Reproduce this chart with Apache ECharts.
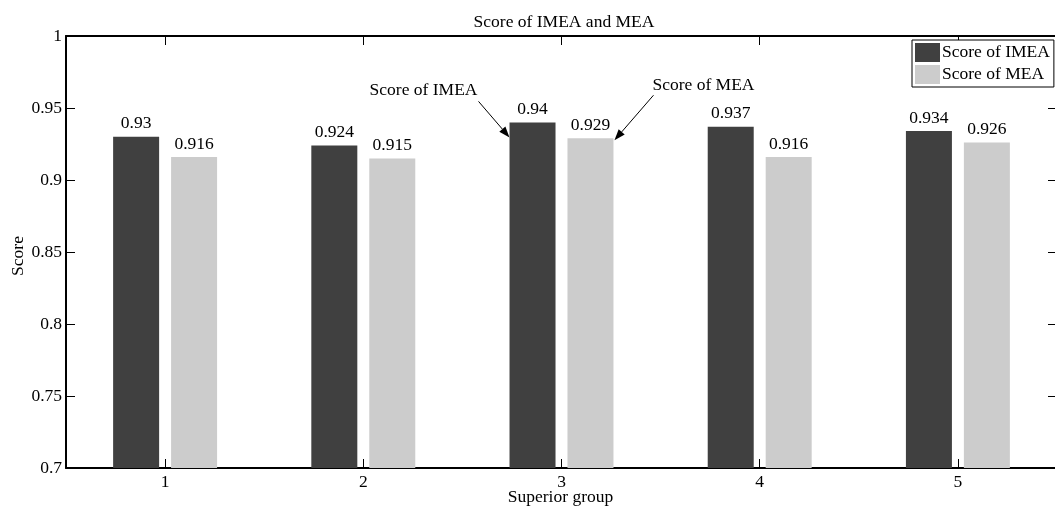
<!DOCTYPE html>
<html>
<head>
<meta charset="utf-8">
<script src="https://cdn.jsdelivr.net/npm/echarts@6/dist/echarts.min.js"></script>
<style>
  html, body { margin: 0; padding: 0; background: #fff; }
  #main { width: 1055px; height: 508px; }
</style>
</head>
<body>
<div id="main"></div>
<script>
// data
const groups = ['1', '2', '3', '4', '5'];
const imea = [0.93, 0.924, 0.94, 0.937, 0.934];
const mea = [0.916, 0.915, 0.929, 0.916, 0.926];
const yTicks = { min: 0.7, max: 1, step: 0.05 };

const font = '"Liberation Serif", "Times New Roman", serif';
const fs = 17.5;
const black = '#000';

let myChart = echarts.init(document.getElementById('main'));

const tickStyle = { show: true, inside: true, length: 9, lineStyle: { color: black, width: 1 } };

const option = {
  animation: false,
  backgroundColor: '#fff',
  textStyle: { fontFamily: font },
  title: {
    text: 'Score of IMEA and MEA',
    left: 559, top: 8, textAlign: 'center',
    textStyle: { fontFamily: font, fontSize: fs, fontWeight: 'normal', color: black }
  },
  legend: {
    orient: 'vertical',
    left: 912, top: 40,
    padding: [3, 4, 3, 3],
    itemGap: 3,
    itemWidth: 25, itemHeight: 19,
    icon: 'rect',
    backgroundColor: '#fff',
    borderColor: black, borderWidth: 1, borderRadius: 0,
    textStyle: { fontFamily: font, fontSize: fs, color: black, padding: [0, 0, 0, -3] },
    data: ['Score of IMEA', 'Score of MEA']
  },
  grid: {
    left: 66, top: 36, width: 991, height: 432,
    containLabel: false,
    outerBoundsMode: 'none'
  },
  xAxis: [{
    type: 'category',
    data: groups,
    position: 'bottom',
    axisLine: { lineStyle: { color: black, width: 2 } },
    axisTick: Object.assign({ alignWithLabel: true }, tickStyle),
    axisLabel: { fontFamily: font, fontSize: fs, color: black, margin: 5 },
    splitLine: { show: false }
  }, {
    type: 'category',
    data: groups,
    position: 'top',
    axisLine: { lineStyle: { color: black, width: 2 } },
    axisTick: Object.assign({ alignWithLabel: true }, tickStyle),
    axisLabel: { show: false },
    splitLine: { show: false }
  }],
  yAxis: [{
    type: 'value',
    min: yTicks.min, max: yTicks.max, interval: yTicks.step,
    position: 'left',
    axisLine: { show: true, lineStyle: { color: black, width: 2 } },
    axisTick: tickStyle,
    axisLabel: { fontFamily: font, fontSize: fs, color: black, margin: 4 },
    splitLine: { show: false }
  }, {
    type: 'value',
    min: yTicks.min, max: yTicks.max, interval: yTicks.step,
    position: 'right',
    axisLine: { show: true, lineStyle: { color: black, width: 2 } },
    axisTick: tickStyle,
    axisLabel: { show: false },
    splitLine: { show: false }
  }],
  series: [{
    name: 'Score of IMEA',
    type: 'bar',
    data: imea,
    barWidth: 46,
    barGap: '26%',
    itemStyle: { color: '#404040' },
    label: { show: true, position: 'top', distance: 4, fontFamily: font, fontSize: fs, color: black }
  }, {
    name: 'Score of MEA',
    type: 'bar',
    data: mea,
    barWidth: 46,
    barGap: '26%',
    itemStyle: { color: '#cccccc' },
    label: { show: true, position: 'top', distance: 4, fontFamily: font, fontSize: fs, color: black }
  }]
};

myChart.setOption(option);

// arrows pointing at the bars of group 3
function barRect(seriesIndex, idx) {
  const data = myChart.getModel().getSeriesByIndex(seriesIndex).getData();
  return data.getItemLayout(idx);
}

function arrow(x1, y1, x2, y2) {
  const ang = Math.atan2(y2 - y1, x2 - x1);
  const len = 11, half = 4;
  const bx = x2 - len * Math.cos(ang), by = y2 - len * Math.sin(ang);
  const px = -Math.sin(ang) * half, py = Math.cos(ang) * half;
  return [{
    type: 'line',
    shape: { x1: x1, y1: y1, x2: bx, y2: by },
    style: { stroke: black, lineWidth: 1 }
  }, {
    type: 'polygon',
    shape: { points: [[x2, y2], [bx + px, by + py], [bx - px, by - py]] },
    style: { fill: black }
  }];
}

function label(text, x, y, rotation) {
  return {
    type: 'text', x: x, y: y, rotation: rotation || 0,
    style: { text: text, fontFamily: font, fontSize: fs, fill: black, align: 'center', verticalAlign: 'middle' }
  };
}

const target = groups.indexOf('3');
const r1 = barRect(0, target);
const r2 = barRect(1, target);
// layout rect: y is the bottom, height negative
const top1 = Math.min(r1.y, r1.y + r1.height);
const top2 = Math.min(r2.y, r2.y + r2.height);
const h1 = { x: r1.x, y: top1 + 15 };
const h2 = { x: r2.x + r2.width + 1, y: top2 + 2 };

// axis titles placed from the grid rect
const rect = myChart.getModel().getComponent('grid').coordinateSystem.getRect();

const graphics = [].concat(
  arrow(h1.x - 31, h1.y - 36, h1.x, h1.y),
  arrow(h2.x + 39, h2.y - 45, h2.x, h2.y),
  [
    label('Score of IMEA', h1.x - 86, h1.y - 47),
    label('Score of MEA', h2.x + 89, h2.y - 55),
    label('Superior group', rect.x + rect.width / 2 - 1, rect.y + rect.height + 29),
    label('Score', rect.x - 48, rect.y + rect.height / 2 + 4, Math.PI / 2)
  ]
);

myChart.setOption({ graphic: graphics });

window.onresize = function () {
  myChart.resize();
};
</script>
</body>
</html>
